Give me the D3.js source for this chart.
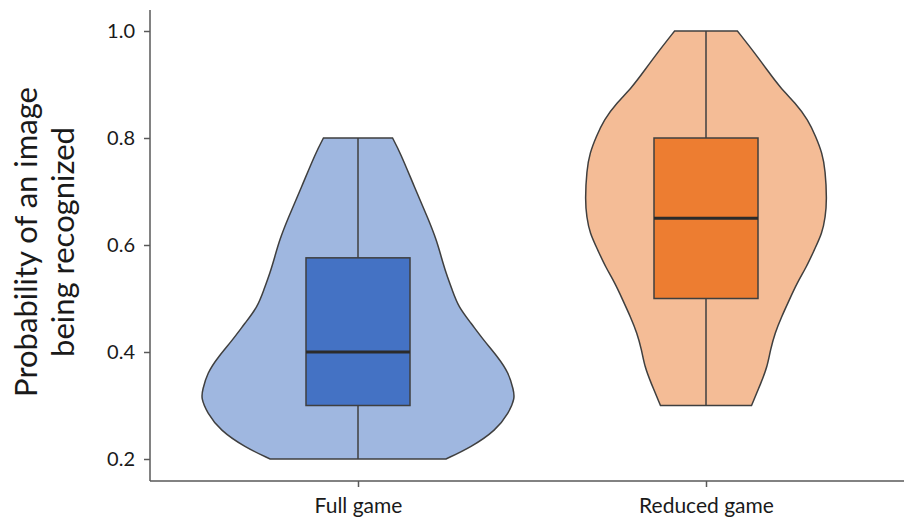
<!DOCTYPE html>
<head>
    <meta charset="utf-8">
    <title>Violin plot</title>
    <style>
        body { margin: 0; background: #fff; }
        text { font-family: Lato, "Open Sans", sans-serif; fill: #1a1a1a; }
    </style>
</head>
<body>

<svg width="904" height="520"></svg>

<script src="https://d3js.org/d3.v7.min.js"></script>

<script>

    // Groups on the x axis
    const categories = ["Full game", "Reduced game"];

    // Density outline of each violin: probability -> relative half width
    const fullProb    = [0.2, 0.222, 0.254, 0.286, 0.314, 0.329, 0.361, 0.391, 0.422, 0.454, 0.484, 0.516, 0.548, 0.578, 0.609, 0.647, 0.708, 0.772, 0.8];
    const fullDens    = [0.56, 0.72, 0.88, 0.96, 1.0, 0.99, 0.96, 0.89, 0.80, 0.72, 0.64, 0.60, 0.56, 0.53, 0.50, 0.45, 0.36, 0.27, 0.22];
    const reducedProb = [0.3, 0.342, 0.372, 0.404, 0.436, 0.465, 0.497, 0.529, 0.559, 0.591, 0.622, 0.652, 0.684, 0.74, 0.772, 0.802, 0.834, 0.865, 0.895, 0.927, 0.959, 1.0];
    const reducedDens = [0.29, 0.35, 0.39, 0.41, 0.44, 0.48, 0.53, 0.58, 0.64, 0.69, 0.74, 0.76, 0.77, 0.76, 0.74, 0.70, 0.65, 0.57, 0.47, 0.39, 0.31, 0.20];

    // Box plot stats: min, q1, median, q3, max
    const boxMin    = [0.2, 0.3];
    const boxQ1     = [0.3, 0.5];
    const boxMedian = [0.4, 0.65];
    const boxQ3     = [0.576, 0.8];
    const boxMax    = [0.8, 1.0];

    const yTicks = [0.2, 0.4, 0.6, 0.8, 1.0];

    const violinFill = ["#9fb7e0", "#f4bc96"];
    const boxFill    = ["#4472c4", "#ed7d31"];

    const svg = d3.select("svg");

    const y = d3.scaleLinear().domain([0.2, 1.0]).range([459, 31]);
    const x = d3.scalePoint().domain(categories).range([184, 880]).padding(0.5);
    const w = d3.scaleLinear().domain([0, 1]).range([0, 157]);
    const boxHalf = 52;

    const violins = [
        fullProb.map((p, i) => ({ p: p, d: fullDens[i] })),
        reducedProb.map((p, i) => ({ p: p, d: reducedDens[i] }))
    ];

    // Violins
    categories.forEach(function(cat, i) {
        const cx = x(cat);
        const area = d3.area()
            .y(d => y(d.p))
            .x0(d => cx - w(d.d))
            .x1(d => cx + w(d.d))
            .curve(d3.curveBasis);

        svg.append("path")
            .datum(violins[i])
            .attr("d", area)
            .attr("fill", violinFill[i])
            .attr("stroke", "#3f3f3f")
            .attr("stroke-width", 1.5);

        // whisker line
        svg.append("line")
            .attr("x1", cx).attr("x2", cx)
            .attr("y1", y(boxMin[i])).attr("y2", y(boxMax[i]))
            .attr("stroke", "#3f3f3f")
            .attr("stroke-width", 1.5);

        // box
        svg.append("rect")
            .attr("x", cx - boxHalf)
            .attr("y", y(boxQ3[i]))
            .attr("width", boxHalf * 2)
            .attr("height", y(boxQ1[i]) - y(boxQ3[i]))
            .attr("fill", boxFill[i])
            .attr("stroke", "#3f3f3f")
            .attr("stroke-width", 1.5);

        // median
        svg.append("line")
            .attr("x1", cx - boxHalf).attr("x2", cx + boxHalf)
            .attr("y1", y(boxMedian[i])).attr("y2", y(boxMedian[i]))
            .attr("stroke", "#2b2b2b")
            .attr("stroke-width", 3);
    });

    // Axes
    const yAxis = svg.append("g")
        .attr("transform", "translate(150,0)")
        .call(d3.axisLeft(y).tickValues(yTicks).tickFormat(d3.format(".1f")).tickSize(6).tickPadding(9));
    yAxis.select(".domain").remove();
    yAxis.selectAll(".tick line").attr("stroke", "#595959").attr("stroke-width", 1.5);
    yAxis.selectAll(".tick text").style("font-size", "20px");

    const xAxis = svg.append("g")
        .attr("transform", "translate(0,481)")
        .call(d3.axisBottom(x).tickSize(6));
    xAxis.select(".domain").remove();
    xAxis.selectAll(".tick line").attr("stroke", "#595959").attr("stroke-width", 1.5);
    xAxis.selectAll(".tick text")
        .attr("y", 32)
        .attr("dy", 0)
        .style("font-size", "21px");

    svg.append("line")
        .attr("x1", 150).attr("x2", 150).attr("y1", 10).attr("y2", 481)
        .attr("stroke", "#595959").attr("stroke-width", 1.5);
    svg.append("line")
        .attr("x1", 150).attr("x2", 904).attr("y1", 481).attr("y2", 481)
        .attr("stroke", "#595959").attr("stroke-width", 1.5);

    // Y axis title (two lines)
    const title = svg.append("text")
        .attr("transform", "translate(37,242) rotate(-90)")
        .attr("text-anchor", "middle")
        .style("font-size", "31px");
    title.append("tspan").attr("x", 0).attr("dy", 0).text("Probability of an image");
    title.append("tspan").attr("x", 0).attr("dy", 37).text("being recognized");

</script>

</body>
